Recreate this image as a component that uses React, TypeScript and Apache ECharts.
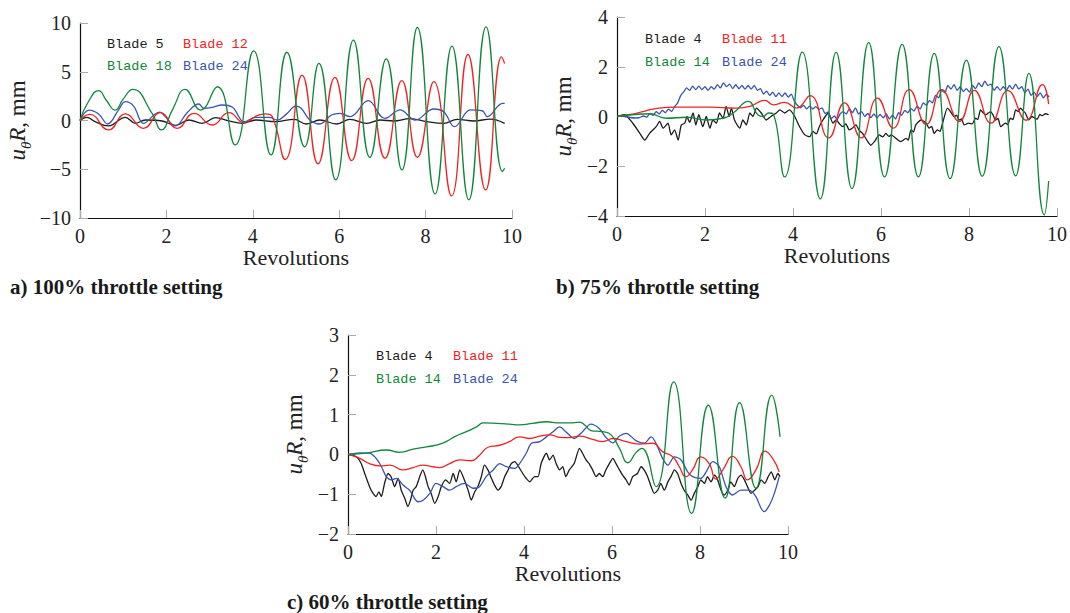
import React, { useEffect, useRef } from "react";
import * as echarts from "echarts";

// ---------- data ----------
const panelTitles = ["a) 100% throttle setting", "b) 75% throttle setting", "c) 60% throttle setting"];
const xRange = [0, 10, 2];
const yRangeA = [-10, 10, 5];
const yRangeB = [-4, 4, 2];
const yRangeC = [-2, 3, 1];
const xName = "Revolutions";

// panel a (100%)
const aBlade5 = [[0,0],[0.16,0.32],[0.35,-0.12],[0.66,-0.56],[1.05,0.32],[1.28,-0.29],[1.51,0.05],[1.9,-0.05],[2.21,-0.5],[2.52,0.05],[2.83,-0.29],[3.14,0.29],[3.45,-0.05],[3.76,-0.29],[4.07,0.05],[4.53,-0.12],[4.96,0.12],[5.24,-0.36],[5.55,0.05],[5.94,-0.36],[6.25,0.12],[6.64,-0.29],[6.95,0.05],[7.26,-0.05],[7.64,0.19],[8.03,-0.12],[8.42,-0.29],[8.73,0.12],[9.12,-0.05],[9.5,0.15],[9.83,-0.29]];
const aBlade12 = [[0,0],[0.23,0.63],[0.66,-0.97],[1.05,0.67],[1.47,-0.8],[1.86,0.8],[2.25,-0.8],[2.64,0.73],[3.06,-0.46],[3.45,0.8],[3.8,-0.22],[4.1,0.5],[4.3,0.67],[4.45,0.4],[4.75,-4.0],[5.14,4.66],[5.51,-4.45],[5.9,4.42],[6.29,-4.12],[6.67,4.32],[7.06,-3.87],[7.45,4.08],[7.81,-3.77],[8.19,3.98],[8.6,-7.73],[8.98,6.77],[9.39,-7.12],[9.76,6.53],[9.83,5.85]];
const aBlade18 = [[0,0],[0.19,1.9],[0.43,3.06],[0.62,2.0],[0.81,1.07],[1.0,2.2],[1.22,3.19],[1.67,0.73],[1.88,-0.97],[2.15,1.2],[2.43,3.19],[2.79,1.07],[3.18,3.46],[3.59,-2.5],[4.02,7.15],[4.42,-3.53],[4.79,7.0],[5.2,-2.7],[5.53,5.85],[5.92,-6.09],[6.33,8.24],[6.71,-3.78],[7.09,6.33],[7.45,-5.07],[7.81,9.54],[8.22,-7.53],[8.61,7.63],[9.0,-8.14],[9.4,9.6],[9.78,-5.24],[9.83,-4.9]];
const aBlade24 = [[0,0],[0.21,1.07],[0.43,0.67],[0.64,-0.36],[0.89,1.07],[1.05,1.93],[1.24,1.48],[1.47,-0.29],[1.74,0.67],[1.85,0.85],[1.95,0.5],[2.21,-0.56],[2.48,0.8],[2.75,1.69],[2.87,1.25],[3.06,1.35],[3.29,1.59],[3.53,1.35],[3.8,-0.12],[4.07,0.32],[4.38,0.32],[4.57,0.05],[4.77,0.63],[5.0,1.48],[5.12,1.25],[5.32,0.05],[5.55,-0.36],[5.82,0.56],[6.02,0.73],[6.25,0.39],[6.67,2.03],[7.06,0.22],[7.41,1.08],[7.76,0.05],[8.19,1.18],[8.42,0.9],[8.67,-0.63],[9.04,1.08],[9.31,1.0],[9.43,0.39],[9.78,1.76],[9.83,1.76]];

// panel b (75%)
const bBlade4 = [[0,0],[0.17,0.07],[0.36,-0.27],[0.52,-0.68],[0.63,-0.95],[0.74,-0.68],[0.89,-0.41],[0.97,-0.2],[1.05,-0.47],[1.16,-0.27],[1.23,-0.74],[1.31,-0.54],[1.39,-0.95],[1.46,-0.34],[1.54,-0.27],[1.59,0],[1.65,-0.24],[1.73,0.14],[1.79,-0.34],[1.86,0.07],[1.95,-0.41],[2.03,0],[2.11,-0.47],[2.18,-0.14],[2.26,-0.27],[2.33,0.14],[2.41,-0.07],[2.48,0.41],[2.55,0],[2.6,0.34],[2.67,-0.14],[2.79,-0.47],[2.86,-0.14],[2.94,-0.34],[3.02,0.14],[3.09,0],[3.17,0.34],[3.28,0.14],[3.39,-0.14],[3.5,0],[3.62,0.14],[3.7,0.27],[3.81,0.14],[3.92,0.27],[4.04,0],[4.15,-0.41],[4.27,-0.74],[4.38,-0.81],[4.45,-0.6],[4.53,-0.7],[4.6,-0.4],[4.68,-0.14],[4.8,0.14],[4.91,-0.27],[4.98,-0.14],[5.06,-0.3],[5.13,-0.41],[5.2,-0.3],[5.28,-0.54],[5.36,-0.45],[5.43,-0.34],[5.5,-0.55],[5.58,-0.68],[5.7,-1.01],[5.77,-1.15],[5.85,-1.01],[5.96,-0.74],[6.04,-0.82],[6.11,-0.68],[6.18,-0.8],[6.23,-0.74],[6.34,-0.88],[6.45,-1.01],[6.57,-0.88],[6.62,-0.95],[6.68,-0.54],[6.74,-0.62],[6.79,-0.34],[6.91,-0.14],[6.98,-0.2],[7.04,-0.3],[7.09,-0.47],[7.15,-0.4],[7.21,-0.68],[7.28,-0.54],[7.34,-0.6],[7.4,-0.27],[7.51,0.34],[7.58,0.2],[7.66,0],[7.72,0.05],[7.77,-0.14],[7.83,-0.1],[7.89,-0.34],[7.99,-0.27],[8.07,-0.3],[8.15,-0.07],[8.2,-0.12],[8.26,0.27],[8.32,0.15],[8.38,0.07],[8.49,0.2],[8.55,0.05],[8.6,-0.14],[8.66,-0.08],[8.72,-0.41],[8.83,-0.27],[8.88,-0.33],[8.94,-0.07],[9.0,-0.12],[9.06,0.27],[9.12,0.2],[9.17,0.34],[9.22,0.25],[9.28,0.14],[9.36,-0.14],[9.43,0],[9.49,-0.06],[9.55,-0.11],[9.61,0.08],[9.66,0.03],[9.74,0.11],[9.81,0.07]];
const bBlade11 = [[0,0],[0.3,0.08],[0.59,0.2],[0.82,0.3],[1.35,0.38],[2.1,0.38],[2.71,0.34],[3.02,0.41],[3.36,0.65],[3.55,0.47],[3.81,0.57],[4.08,0.34],[4.39,0.84],[4.81,-0.86],[5.17,0.55],[5.55,-0.86],[5.92,0.74],[6.28,-0.47],[6.64,1.08],[7.03,-0.32],[7.38,1.08],[7.78,-0.2],[8.12,1.05],[8.5,-0.27],[8.88,1.04],[9.3,-0.15],[9.67,1.28],[9.81,0.5]];
const bBlade14 = [[0,0],[0.4,0.08],[0.74,0.11],[1.12,-0.07],[1.58,-0.03],[2.03,-0.14],[2.41,-0.07],[2.64,0.14],[2.98,0.61],[3.2,0.07],[3.32,0.0],[3.45,0.14],[3.55,0.1],[3.81,-2.43],[4.21,2.59],[4.62,-3.31],[4.98,2.58],[5.34,-2.9],[5.72,2.97],[6.08,-2.43],[6.48,2.9],[6.85,-2.43],[7.21,2.54],[7.57,-2.5],[7.94,2.27],[8.3,-2.4],[8.68,2.81],[9.06,-2.39],[9.36,1.73],[9.71,-3.95],[9.81,-2.59]];
const bBlade24 = [[0,0],[0.1,0.02],[0.2,-0.01],[0.3,-0.04],[0.4,-0.06],[0.5,-0.05],[0.6,0.02],[0.68,-0.02],[0.75,0.12],[0.82,0.05],[0.89,0.2],[0.96,0.1],[1.03,0.25],[1.1,0.15],[1.17,0.3],[1.24,0.2],[1.31,0.4],[1.38,0.55],[1.45,0.85],[1.52,1.0],[1.58,1.15],[1.65,1.05],[1.72,1.22],[1.79,1.08],[1.86,1.22],[1.93,1.08],[2.0,1.2],[2.07,1.05],[2.14,1.2],[2.21,1.1],[2.28,1.28],[2.35,1.15],[2.42,1.35],[2.49,1.2],[2.56,1.3],[2.63,1.12],[2.7,1.28],[2.77,1.12],[2.84,1.25],[2.91,1.1],[2.98,1.25],[3.05,1.1],[3.12,1.25],[3.19,1.05],[3.26,1.12],[3.33,0.9],[3.4,1.02],[3.47,0.85],[3.54,0.98],[3.61,0.8],[3.68,0.95],[3.75,0.8],[3.82,0.95],[3.89,0.78],[3.96,0.9],[4.03,0.62],[4.1,0.45],[4.17,0.35],[4.24,0.45],[4.31,0.3],[4.38,0.42],[4.45,0.3],[4.52,0.4],[4.59,0.28],[4.66,0.35],[4.73,0.12],[4.8,0.18],[4.87,-0.08],[4.94,0.02],[5.0,-0.12],[5.07,0.1],[5.14,0.2],[5.21,0.1],[5.28,0.32],[5.35,0.15],[5.42,0.35],[5.49,0.1],[5.56,0.2],[5.63,0.0],[5.7,0.12],[5.77,-0.05],[5.84,0.1],[5.91,-0.05],[5.98,0.08],[6.05,-0.05],[6.12,0.1],[6.19,-0.1],[6.26,0.05],[6.33,-0.1],[6.4,0.15],[6.47,0.05],[6.54,0.25],[6.61,0.15],[6.68,0.32],[6.75,0.22],[6.82,0.42],[6.89,0.3],[6.96,0.55],[7.03,0.45],[7.1,0.65],[7.17,0.55],[7.24,0.85],[7.31,0.75],[7.38,1.05],[7.45,0.95],[7.52,1.25],[7.59,1.1],[7.66,1.28],[7.73,1.05],[7.8,1.2],[7.87,1.0],[7.94,1.12],[8.01,0.98],[8.08,1.25],[8.15,1.12],[8.22,1.35],[8.29,1.2],[8.36,1.42],[8.43,1.25],[8.5,1.3],[8.57,1.05],[8.64,1.2],[8.71,1.05],[8.78,1.2],[8.85,1.05],[8.92,1.25],[8.99,1.1],[9.06,1.3],[9.13,1.1],[9.2,1.2],[9.27,0.95],[9.34,1.1],[9.41,0.85],[9.48,0.98],[9.55,0.8],[9.62,0.95],[9.69,0.75],[9.76,0.9],[9.82,0.78]];

// panel c (60%)
const cBlade4 = [[0,0],[0.19,-0.06],[0.3,-0.23],[0.38,-0.48],[0.49,-0.81],[0.57,-0.98],[0.64,-1.06],[0.7,-0.94],[0.76,-1.06],[0.83,-0.73],[0.91,-0.48],[0.98,-0.56],[1.06,-0.81],[1.14,-0.6],[1.21,-0.9],[1.29,-1.1],[1.36,-1.31],[1.42,-1.15],[1.48,-0.9],[1.55,-0.81],[1.63,-0.56],[1.7,-0.39],[1.76,-0.56],[1.82,-0.81],[1.89,-0.98],[1.97,-1.23],[2.05,-1.06],[2.12,-0.81],[2.22,-0.64],[2.31,-0.73],[2.39,-0.48],[2.46,-0.69],[2.54,-0.39],[2.63,-0.6],[2.73,-0.9],[2.8,-1.15],[2.88,-0.94],[2.95,-0.81],[3.03,-0.56],[3.1,-0.27],[3.18,-0.39],[3.26,-0.6],[3.33,-0.77],[3.41,-0.9],[3.48,-0.81],[3.56,-0.56],[3.64,-0.39],[3.71,-0.23],[3.79,-0.18],[3.9,-0.35],[4.02,-0.56],[4.13,-0.69],[4.24,-0.56],[4.32,-0.56],[4.39,-0.23],[4.51,0.03],[4.58,-0.14],[4.66,-0.02],[4.73,-0.23],[4.81,-0.39],[4.88,-0.31],[4.95,-0.56],[5.03,-0.39],[5.14,-0.23],[5.26,0.15],[5.33,0.03],[5.41,-0.14],[5.48,-0.23],[5.56,-0.39],[5.64,-0.56],[5.71,-0.48],[5.79,-0.56],[5.86,-0.39],[5.94,-0.23],[6.02,-0.1],[6.09,-0.23],[6.17,-0.39],[6.24,-0.52],[6.32,-0.64],[6.39,-0.77],[6.47,-0.56],[6.58,-0.48],[6.66,-0.31],[6.73,-0.39],[6.81,-0.56],[6.89,-0.81],[6.96,-0.98],[7.04,-0.9],[7.11,-0.73],[7.19,-0.9],[7.27,-0.69],[7.34,-0.56],[7.42,-0.39],[7.49,-0.48],[7.57,-0.73],[7.64,-0.9],[7.72,-1.02],[7.8,-1.15],[7.87,-0.98],[7.95,-0.81],[8.02,-0.64],[8.1,-0.73],[8.17,-0.56],[8.25,-0.69],[8.33,-0.52],[8.4,-0.64],[8.48,-0.9],[8.55,-1.02],[8.63,-0.9],[8.7,-0.69],[8.78,-0.81],[8.86,-0.6],[8.93,-0.52],[9.01,-0.64],[9.08,-0.81],[9.16,-0.98],[9.24,-0.9],[9.32,-0.81],[9.39,-0.64],[9.47,-0.73],[9.55,-0.56],[9.62,-0.44],[9.7,-0.64],[9.77,-0.48],[9.82,-0.56]];
const cBlade11 = [[0,0],[0.27,-0.1],[0.49,-0.23],[0.72,-0.29],[0.95,-0.27],[1.25,-0.39],[1.48,-0.33],[1.7,-0.27],[1.93,-0.31],[2.08,-0.33],[2.31,-0.23],[2.54,-0.14],[2.8,-0.16],[2.99,-0.02],[3.18,0.18],[3.45,0.23],[3.67,0.32],[3.9,0.44],[4.13,0.4],[4.36,0.46],[4.58,0.49],[4.81,0.43],[5.03,0.42],[5.26,0.46],[5.56,0.38],[5.79,0.32],[6.02,0.4],[6.32,0.32],[6.62,0.26],[6.92,0.28],[7.15,0.07],[7.38,-0.06],[7.53,-0.31],[7.68,-0.56],[7.83,-0.39],[8.02,-0.06],[8.21,-0.23],[8.36,-0.62],[8.52,-0.39],[8.74,-0.05],[8.93,-0.31],[9.08,-0.64],[9.27,-0.39],[9.48,0.08],[9.65,-0.1],[9.8,-0.44]];
const cBlade14 = [[0,0],[0.42,0.03],[0.87,0.11],[1.17,0.05],[1.48,0.13],[1.78,0.19],[2.0,0.23],[2.23,0.32],[2.45,0.46],[2.69,0.57],[2.92,0.69],[3.07,0.79],[3.37,0.78],[3.67,0.76],[3.9,0.74],[4.2,0.78],[4.5,0.82],[4.81,0.79],[5.04,0.79],[5.26,0.81],[5.4,0.72],[5.52,0.6],[5.79,0.57],[5.98,0.49],[6.17,0.15],[6.36,-0.21],[6.55,0.05],[6.68,0.15],[7.0,-0.81],[7.4,1.82],[7.81,-1.48],[8.19,1.24],[8.57,-1.1],[8.9,1.3],[9.27,-0.85],[9.63,1.49],[9.82,0.44]];
const cBlade24 = [[0,0],[0.27,0.04],[0.49,0.03],[0.64,-0.1],[0.76,-0.31],[0.87,-0.56],[0.98,-0.64],[1.1,-0.6],[1.25,-0.77],[1.4,-0.9],[1.59,-1.19],[1.7,-1.16],[1.86,-0.98],[2.0,-0.73],[2.16,-0.81],[2.31,-0.9],[2.46,-0.81],[2.65,-0.73],[2.84,-0.85],[2.99,-0.81],[3.14,-0.56],[3.3,-0.39],[3.45,-0.23],[3.6,-0.31],[3.79,-0.35],[3.9,-0.23],[4.05,0.03],[4.17,0.28],[4.36,0.32],[4.51,0.44],[4.66,0.57],[4.81,0.69],[4.95,0.57],[5.14,0.4],[5.33,0.57],[5.52,0.76],[5.71,0.65],[5.86,0.43],[6.02,0.29],[6.17,0.46],[6.32,0.53],[6.55,0.34],[6.73,0.28],[6.89,0.44],[7.0,0.28],[7.15,-0.1],[7.27,-0.27],[7.42,-0.06],[7.57,-0.14],[7.72,-0.44],[7.83,-0.56],[8.02,-0.6],[8.14,-0.44],[8.29,-0.18],[8.44,-0.31],[8.59,-0.81],[8.74,-1.02],[8.93,-0.9],[9.12,-0.9],[9.27,-1.06],[9.39,-1.36],[9.46,-1.44],[9.58,-1.27],[9.69,-0.98],[9.8,-0.56]];

// ---------- styles ----------
const SERIF = "'Liberation Serif', 'Times New Roman', serif";
const MONO = "'Liberation Mono', 'DejaVu Sans Mono', monospace";
const C_BLACK = "#1c1c1c";
const C_RED = "#ee2424";
const C_GREEN = "#12873c";
const C_BLUE = "#3a54b0";

const grids = [
  { left: 80, top: 23, width: 432, height: 195 },
  { left: 617, top: 17, width: 441, height: 199 },
  { left: 348, top: 335, width: 440, height: 199 },
];
const yNameGaps = [47, 38, 38];

function minus(v: number) {
  return String(v).replace("-", "\u2212");
}

function makeX(i: number) {
  return {
    type: "value",
    gridIndex: i,
    min: xRange[0],
    max: xRange[1],
    interval: xRange[2],
    name: xName,
    nameLocation: "middle",
    nameGap: 28,
    nameTextStyle: { fontFamily: SERIF, fontSize: 22, color: "#222" },
    axisLine: { show: true, onZero: false, lineStyle: { color: "#111", width: 1.2 } },
    axisTick: { show: true, inside: true, length: 8, lineStyle: { color: "#aaa", width: 1 } },
    axisLabel: { fontFamily: SERIF, fontSize: 20, color: "#222", margin: 8, formatter: minus },
    splitLine: { show: false },
  };
}

function makeY(i: number, r: number[]) {
  return {
    type: "value",
    gridIndex: i,
    min: r[0],
    max: r[1],
    interval: r[2],
    name: "{i|u}{s|θ}{i|R}{n|, mm}",
    nameLocation: "middle",
    nameGap: yNameGaps[i],
    nameRotate: 90,
    nameTextStyle: {
      color: "#222",
      rich: {
        i: { fontFamily: SERIF, fontStyle: "italic", fontSize: 23, color: "#222", lineHeight: 32, verticalAlign: "middle" },
        s: { fontFamily: SERIF, fontStyle: "italic", fontSize: 15, color: "#222", lineHeight: 32, verticalAlign: "bottom" },
        n: { fontFamily: SERIF, fontSize: 23, color: "#222", lineHeight: 32, verticalAlign: "middle" },
      },
    },
    axisLine: { show: true, onZero: false, lineStyle: { color: "#111", width: 1.2 } },
    axisTick: { show: true, inside: true, length: 8, lineStyle: { color: "#aaa", width: 1 } },
    axisLabel: { fontFamily: SERIF, fontSize: 20, color: "#222", margin: 9, formatter: minus },
    splitLine: { show: false },
  };
}

function line(name: string, data: number[][], i: number, color: string, smooth: number) {
  return {
    type: "line",
    name,
    data,
    xAxisIndex: i,
    yAxisIndex: i,
    showSymbol: false,
    symbol: "none",
    smooth,
    lineStyle: { color, width: 1.3 },
    itemStyle: { color },
    emphasis: { disabled: true },
  };
}

function leg(name: string, color: string, left: number, top: number) {
  return {
    data: [name],
    left,
    top,
    icon: "rect",
    itemWidth: 0,
    itemHeight: 0,
    itemGap: 0,
    padding: 0,
    selectedMode: false,
    textStyle: { fontFamily: MONO, fontSize: 13.5, color, padding: 0 },
  };
}

export default function App() {
  const ref = useRef<HTMLDivElement>(null);
  useEffect(() => {
    if (!ref.current) return;
    const chart = echarts.init(ref.current, undefined, { renderer: "svg" });
    chart.setOption({
      animation: false,
      backgroundColor: "#ffffff",
      grid: grids,
      xAxis: [makeX(0), makeX(1), makeX(2)],
      yAxis: [makeY(0, yRangeA), makeY(1, yRangeB), makeY(2, yRangeC)],
      legend: [
        leg("Blade 5", C_BLACK, 102, 37),
        leg("Blade 12", C_RED, 178, 37),
        leg("Blade 18", C_GREEN, 102, 59),
        leg("Blade 24", C_BLUE, 178, 59),
        leg("Blade 4", C_BLACK, 640, 32),
        leg("Blade 11", C_RED, 717, 32),
        leg("Blade 14", C_GREEN, 640, 55),
        leg("Blade 24", C_BLUE, 717, 55),
        leg("Blade 4", C_BLACK, 371, 349),
        leg("Blade 11", C_RED, 448, 349),
        leg("Blade 14", C_GREEN, 371, 372),
        leg("Blade 24", C_BLUE, 448, 372),
      ],
      series: [
        line("Blade 5", aBlade5, 0, C_BLACK, 0.4),
        line("Blade 24", aBlade24, 0, C_BLUE, 0.4),
        line("Blade 12", aBlade12, 0, C_RED, 0.5),
        line("Blade 18", aBlade18, 0, C_GREEN, 0.5),
        line("Blade 4", bBlade4, 1, C_BLACK, 0.2),
        line("Blade 24", bBlade24, 1, C_BLUE, 0.2),
        line("Blade 11", bBlade11, 1, C_RED, 0.5),
        line("Blade 14", bBlade14, 1, C_GREEN, 0.5),
        line("Blade 4", cBlade4, 2, C_BLACK, 0.2),
        line("Blade 24", cBlade24, 2, C_BLUE, 0.3),
        line("Blade 11", cBlade11, 2, C_RED, 0.5),
        line("Blade 14", cBlade14, 2, C_GREEN, 0.5),
      ],
      graphic: [
        { type: "text", left: 10, top: 276, style: { text: panelTitles[0], fontFamily: SERIF, fontWeight: "bold", fontSize: 21, fill: "#1a1a1a" } },
        { type: "text", left: 556, top: 276, style: { text: panelTitles[1], fontFamily: SERIF, fontWeight: "bold", fontSize: 21, fill: "#1a1a1a" } },
        { type: "text", left: 287, top: 591, style: { text: panelTitles[2], fontFamily: SERIF, fontWeight: "bold", fontSize: 21, fill: "#1a1a1a" } },
      ],
    });
    return () => chart.dispose();
  }, []);
  return <div ref={ref} style={{ position: "fixed", left: 0, top: 0, width: 1070, height: 613, background: "#fff" }} />;
}
